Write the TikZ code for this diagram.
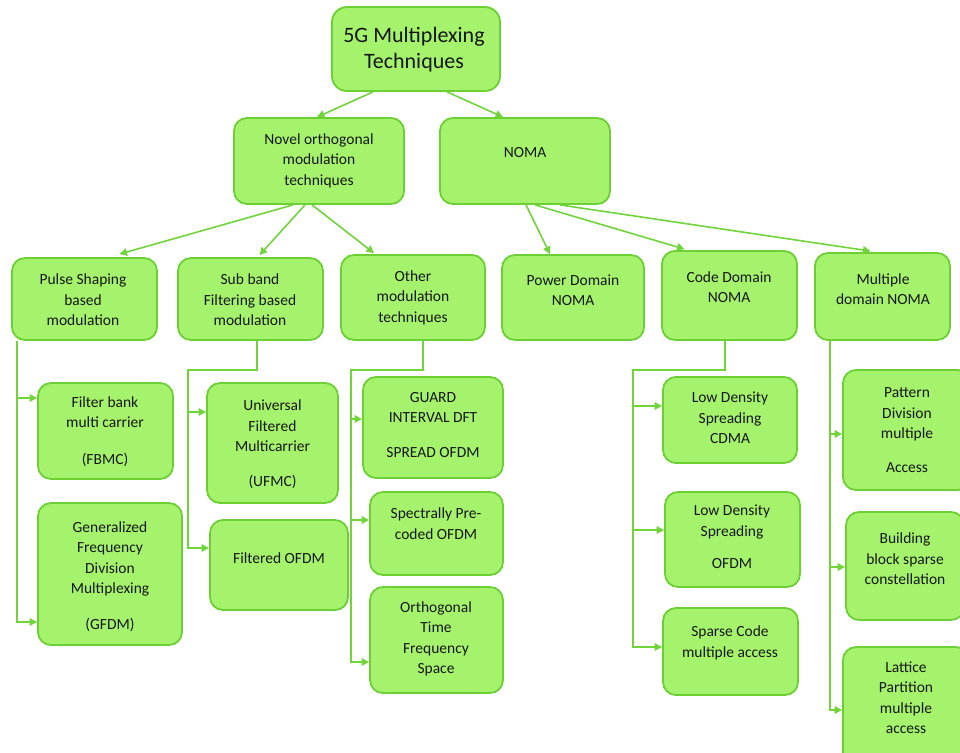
\documentclass[tikz,border=0pt]{standalone}
\usepackage{fontspec}
\setmainfont{Carlito}
\usetikzlibrary{arrows.meta,calc}
\definecolor{boxfill}{RGB}{165,243,108}
\definecolor{boxedge}{RGB}{108,208,52}
\definecolor{wire}{RGB}{112,212,58}
\definecolor{ink}{RGB}{22,22,22}
\begin{document}
\begin{tikzpicture}[x=1pt,y=-1pt,
  box/.style={draw=boxedge, fill=boxfill, line width=1.8pt, rounded corners=13pt, inner sep=0pt},
  lbl/.style={text=ink, align=center, font=\fontsize{15.5}{20.5}\selectfont, inner sep=0pt},
  title/.style={text=ink, align=center, font=\fontsize{22}{26}\selectfont, inner sep=0pt},
  conn/.style={draw=wire, line width=1.6pt, -{Triangle[length=7.5pt,width=7.5pt]}}]
\clip (0,0) rectangle (960,752);
\fill[white] (0,0) rectangle (960,752);

% ---- boxes ----
\node[box, rounded corners=15pt, minimum width=168, minimum height=84] (root) at (416,49) {};
\node[box, minimum width=170, minimum height=86] (novel) at (319,161) {};
\node[box, minimum width=170, minimum height=86] (noma) at (525,161) {};

\node[box, minimum width=145, minimum height=82] (pulse) at (84.5,299) {};
\node[box, minimum width=145, minimum height=82] (sub) at (250.5,299) {};
\node[box, minimum width=144, minimum height=85] (other) at (413,297.5) {};
\node[box, minimum width=142, minimum height=85] (power) at (573,297.5) {};
\node[box, minimum width=135, minimum height=89] (code) at (729.5,295.5) {};
\node[box, minimum width=135, minimum height=87] (mult) at (882.5,296.5) {};

\node[box, minimum width=135, minimum height=96] (fbmc) at (105.5,431) {};
\node[box, minimum width=144, minimum height=142] (gfdm) at (110,574) {};
\node[box, minimum width=131, minimum height=120] (ufmc) at (272.5,443) {};
\node[box, minimum width=138, minimum height=90] (fofdm) at (279,565) {};
\node[box, minimum width=140, minimum height=101] (guard) at (433,427.5) {};
\node[box, minimum width=133, minimum height=83] (spectral) at (436.5,533.5) {};
\node[box, minimum width=133, minimum height=106] (otfs) at (436.5,640) {};
\node[box, minimum width=134, minimum height=86] (ldscdma) at (730,420) {};
\node[box, minimum width=135, minimum height=95] (ldsofdm) at (732.5,539.5) {};
\node[box, minimum width=135, minimum height=87] (scma) at (730.5,651.5) {};
\node[box, minimum width=128, minimum height=120] (pdma) at (907,430) {};
\node[box, minimum width=118, minimum height=108] (bbsc) at (905,566) {};
\node[box, minimum width=126, minimum height=128] (lpma) at (906,711) {};

% ---- labels ----
\node[title] (t-root) at (414,50) {5G Multiplexing\\Techniques};
\node[lbl] (t-novel) at (319,160.5) {Novel orthogonal\\modulation\\techniques};
\node[lbl] (t-noma) at (525,153) {NOMA};
\node[lbl] (t-pulse) at (83,300) {Pulse Shaping\\based\\modulation};
\node[lbl] (t-sub) at (250,300) {Sub band\\Filtering based\\modulation};
\node[lbl] (t-other) at (413,297.5) {Other\\modulation\\techniques};
\node[lbl] (t-power) at (573,290) {Power Domain\\NOMA};
\node[lbl] (t-code) at (729,287) {Code Domain\\NOMA};
\node[lbl] (t-mult) at (883,289) {Multiple\\domain NOMA};

\node[lbl] (t-fbmc) at (105,431.5) {Filter bank\\multi carrier\\[16pt](FBMC)};
\node[lbl] (t-gfdm) at (110,576.5) {Generalized\\Frequency\\Division\\Multiplexing\\[15pt](GFDM)};
\node[lbl] (t-ufmc) at (272.5,444) {Universal\\Filtered\\Multicarrier\\[14pt](UFMC)};
\node[lbl] (t-fofdm) at (279,558) {Filtered OFDM};
\node[lbl] (t-guard) at (433,425) {GUARD\\INTERVAL DFT\\[14pt]SPREAD OFDM};
\node[lbl] (t-spectral) at (436,523.5) {Spectrally Pre-\\coded OFDM};
\node[lbl] (t-otfs) at (436,639) {Orthogonal\\Time\\Frequency\\Space};
\node[lbl] (t-ldscdma) at (730,418) {Low Density\\Spreading\\CDMA};
\node[lbl] (t-ldsofdm) at (732,537) {Low Density\\Spreading\\[12pt]OFDM};
\node[lbl] (t-scma) at (730,643) {Sparse Code\\multiple access};
\node[lbl] (t-pdma) at (907,430) {Pattern\\Division\\multiple\\[13pt]Access};
\node[lbl] (t-bbsc) at (905,559) {Building\\block sparse\\constellation};
\node[lbl] (t-lpma) at (906,697.5) {Lattice\\Partition\\multiple\\access};

% ---- top-level branches ----
\draw[conn] ($(root.south)+(-43,0)$) -- ($(novel.north)+(-2,0)$);
\draw[conn] ($(root.south)+(31,0)$) -- ($(noma.north)+(-22,0)$);

\draw[conn] ($(novel.south)+(-26,0)$) -- ($(pulse.north)+(35,-3)$);
\draw[conn] ($(novel.south)+(-14,0)$) -- ($(sub.north)+(9,-2)$);
\draw[conn] ($(novel.south)+(-7,0)$) -- ($(other.north)+(-39,-1)$);

\draw[conn] ($(noma.south)+(1,0)$) -- ($(power.north)+(-23,0)$);
\draw[conn] ($(noma.south)+(10,0)$) -- ($(code.north)+(-45,-1)$);
\draw[conn] ($(noma.south)+(35,0)$) -- ($(mult.north)+(-12,-1)$);

% ---- pulse shaping family ----
\coordinate (pA) at ($(pulse.south)+(-67.5,0)$);
\coordinate (fbIn) at ($(fbmc.west)+(0,-33)$);
\coordinate (gfIn) at ($(gfdm.west)+(0,48)$);
\draw[conn] (pA) |- (gfIn);
\draw[conn] (pA |- fbIn) -- (fbIn);

% ---- sub band filtering family ----
\coordinate (sA) at ($(sub.south)+(6.5,0)$);
\coordinate (sB) at ($(sub.south)+(6.5,29)$);
\coordinate (sT) at ($(ufmc.west)+(-18,0)$);
\coordinate (ufIn) at ($(ufmc.west)+(0,-31)$);
\coordinate (foIn) at ($(fofdm.west)+(0,-17)$);
\draw[conn] (sA) -- (sB) -| (sT |- foIn) -- (foIn);
\draw[conn] (sT |- ufIn) -- (ufIn);

% ---- other modulation family ----
\coordinate (oA) at ($(other.south)+(10,0)$);
\coordinate (oB) at ($(other.south)+(10,29)$);
\coordinate (oT) at ($(guard.west)+(-11,0)$);
\coordinate (gdIn) at ($(guard.west)+(0,-8.5)$);
\coordinate (spIn) at ($(spectral.west)+(0,-13.5)$);
\coordinate (otIn) at ($(otfs.west)+(0,22)$);
\draw[conn] (oA) -- (oB) -| (oT |- otIn) -- (otIn);
\draw[conn] (oT |- gdIn) -- (gdIn);
\draw[conn] (oT |- spIn) -- (spIn);

% ---- code domain family ----
\coordinate (cA) at ($(code.south)+(-4.5,0)$);
\coordinate (cB) at ($(code.south)+(-4.5,29)$);
\coordinate (cT) at ($(ldscdma.west)+(-29,0)$);
\coordinate (lcIn) at ($(ldscdma.west)+(0,-14)$);
\coordinate (loIn) at ($(ldsofdm.west)+(0,-9.5)$);
\coordinate (scIn) at ($(scma.west)+(0,-4.5)$);
\draw[conn] (cA) -- (cB) -| (cT |- scIn) -- (scIn);
\draw[conn] (cT |- lcIn) -- (lcIn);
\draw[conn] (cT |- loIn) -- (loIn);

% ---- multiple domain family ----
\coordinate (mA) at ($(mult.south west)+(16,0)$);
\coordinate (pdIn) at ($(pdma.west)+(0,4)$);
\coordinate (bbIn) at ($(bbsc.west)+(0,1)$);
\coordinate (lpIn) at ($(lpma.west)+(0,-1)$);
\draw[conn] (mA) |- (lpIn);
\draw[conn] (mA |- pdIn) -- (pdIn);
\draw[conn] (mA |- bbIn) -- (bbIn);
\end{tikzpicture}
\end{document}
